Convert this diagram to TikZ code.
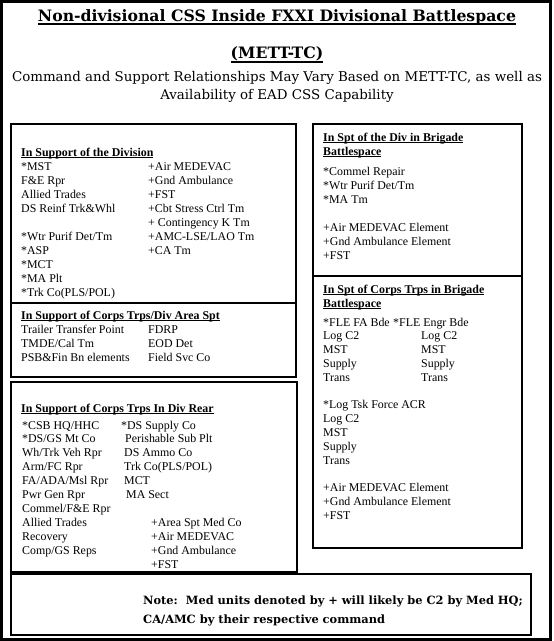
\documentclass[tikz,border=0pt]{standalone}
\usepackage{fontspec}
\setmainfont{Liberation Serif}
\newfontfamily\schfont{DejaVu Serif}
\newcommand{\cssfont}{\fontsize{11.9}{14}\selectfont}
% underline: [thickness]{drop}{text}
\newcommand{\undl}[3][0.9pt]{\setbox0=\hbox{#3}\rlap{\rule[-#2]{\wd0}{#1}}\box0}
\newcommand{\hdr}[1]{\undl{2.2pt}{\textbf{#1}}}

\begin{document}
\begin{tikzpicture}[x=1pt, y=-1pt,
  frame/.style={draw, line width=2pt},
  item/.style={anchor=base west, inner sep=0pt, font=\cssfont},
  caption/.style={anchor=base, inner sep=0pt, font=\schfont\bfseries\fontsize{15.7}{18}\selectfont},
  subcap/.style={anchor=base, inner sep=0pt, font=\schfont\fontsize{13.4}{18}\selectfont},
  notetext/.style={anchor=base west, inner sep=0pt, font=\schfont\bfseries\fontsize{11.4}{19}\selectfont}]
\useasboundingbox (0,0) rectangle (554,641);
\draw[line width=3pt] (1.5,1.5) rectangle (550.5,639.5);
% titles
\node[caption] (title) at (277,21) {\undl[1.6pt]{3.5pt}{Non-divisional CSS Inside FXXI Divisional Battlespace}};
\node[caption] (mett) at (277,58) {\undl[1.6pt]{4.8pt}{(METT-TC)}};
\node[subcap] (sub1) at (277,81) {Command and Support Relationships May Vary Based on METT-TC, as well as};
\node[subcap] (sub2) at (277,99) {Availability of EAD CSS Capability};

% in support of the division
\draw[frame] (11,124) rectangle (296,377);
\draw[frame] (11,303) -- (296,303);
\node[item] (divHd) at (21,156) {\hdr{In Support of the Division}};
\foreach \r/\t in {0/{*MST}, 1/{F\&E Rpr}, 2/{Allied Trades}, 3/{DS Reinf Trk\&Whl},
    5/{*Wtr Purif Det/Tm}, 6/{*ASP}, 7/{*MCT}, 8/{*MA Plt}, 9/{*Trk Co(PLS/POL)}}
  \node[item] (divL\r) at (21,170+14*\r) {\t};
\foreach \r/\t in {0/{+Air MEDEVAC}, 1/{+Gnd Ambulance}, 2/{+FST}, 3/{+Cbt Stress Ctrl Tm},
    4/{+ Contingency K Tm}, 5/{+AMC-LSE/LAO Tm}, 6/{+CA Tm}}
  \node[item] (divR\r) at (148,170+14*\r) {\t};
% div area spt
\node[item] (areaHd) at (21,319) {\hdr{In Support of Corps Trps/Div Area Spt}};
\foreach \r/\t in {0/{Trailer Transfer Point}, 1/{TMDE/Cal Tm}, 2/{PSB\&Fin Bn elements}}
  \node[item] (areaL\r) at (21,333+14*\r) {\t};
\foreach \r/\t in {0/{FDRP}, 1/{EOD Det}, 2/{Field Svc Co}}
  \node[item] (areaR\r) at (148,333+14*\r) {\t};

% div rear
\draw[frame] (11,382) rectangle (297,572);
\node[item] (rearHd) at (21,412) {\hdr{In Support of Corps Trps In Div Rear}};
\foreach \r/\t in {0/{*CSB HQ/HHC}, 1/{*DS/GS Mt Co}, 2/{Wh/Trk Veh Rpr}, 3/{Arm/FC Rpr},
    4/{FA/ADA/Msl Rpr}, 5/{Pwr Gen Rpr}, 6/{Commel/F\&E Rpr}, 7/{Allied Trades},
    8/{Recovery}, 9/{Comp/GS Reps}}
  \node[item] (rearL\r) at (22,429+13.9*\r) {\t};
\foreach \r/\x/\t in {0/121/{*DS Supply Co}, 1/125/{Perishable Sub Plt}, 2/124/{DS Ammo Co},
    3/124/{Trk Co(PLS/POL)}, 4/124/{MCT}, 5/126/{MA Sect}, 7/151/{+Area Spt Med Co},
    8/151/{+Air MEDEVAC}, 9/151/{+Gnd Ambulance}, 10/151/{+FST}}
  \node[item] (rearR\r) at (\x,429+13.9*\r) {\t};

% brigade battlespace
\draw[frame] (313,124) rectangle (522,548);
\draw[frame] (313,276) -- (522,276);
\node[item] (bdeHd) at (323,141) {\hdr{In Spt of the Div in Brigade}};
\node[item] (bdeHdb) at (323,155) {\hdr{Battlespace}};
\foreach \r/\t in {0/{*Commel Repair}, 1/{*Wtr Purif Det/Tm}, 2/{*MA Tm},
    4/{+Air MEDEVAC Element}, 5/{+Gnd Ambulance Element}, 6/{+FST}}
  \node[item] (bde\r) at (323,175+14*\r) {\t};
\node[item] (trpHd) at (323,293) {\hdr{In Spt of Corps Trps in Brigade}};
\node[item] (trpHdb) at (323,307) {\hdr{Battlespace}};
\foreach \r/\t in {0/{*FLE FA Bde}, 1/{Log C2}, 2/{MST}, 3/{Supply}, 4/{Trans},
    6/{*Log Tsk Force ACR}, 7/{Log C2}, 8/{MST}, 9/{Supply}, 10/{Trans},
    12/{+Air MEDEVAC Element}, 13/{+Gnd Ambulance Element}, 14/{+FST}}
  \node[item] (trpL\r) at (323,326+13.8*\r) {\t};
\node[item] (trpR0) at (393,326) {*FLE Engr Bde};
\foreach \r/\t in {1/{Log C2}, 2/{MST}, 3/{Supply}, 4/{Trans}}
  \node[item] (trpR\r) at (421,326+13.8*\r) {\t};

% note
\draw[frame] (11,574) rectangle (531,635);
\node[notetext] (note1) at (143,604) {Note:\ \ Med units denoted by + will likely be C2 by Med HQ;};
\node[notetext] (note2) at (143,623) {CA/AMC by their respective command};
\end{tikzpicture}
\end{document}
